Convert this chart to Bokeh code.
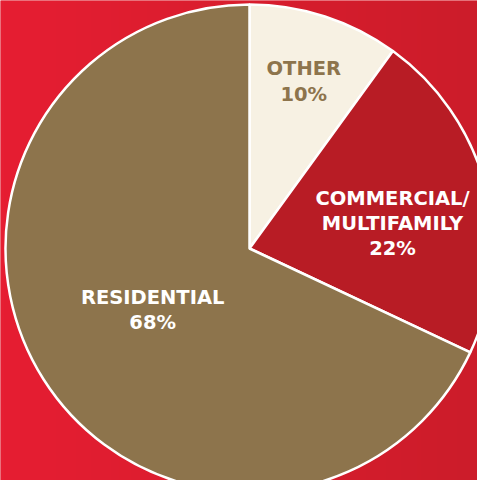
import numpy as np
from bokeh.plotting import figure
from bokeh.models import Range1d, ColumnDataSource
from bokeh.core.properties import value
from bokeh.embed import file_html
from bokeh.resources import INLINE

labels = ["OTHER\n10%", "COMMERCIAL/\nMULTIFAMILY\n22%", "RESIDENTIAL\n68%"]
values = [10, 22, 68]
colors = ["#f7f1e3", "#b81c25", "#8d744c"]
text_colors = ["#8d744c", "#ffffff", "#ffffff"]
label_r = [0.72, 0.595, 0.47]
label_dangle = [0.0, -4.5, 0.0]

W, H = 477, 480
cx, cy, R = 249, H - 248, 244

p = figure(width=W, height=H, output_backend="svg", toolbar_location=None,
           x_range=Range1d(0, W), y_range=Range1d(0, H), min_border=0)
p.axis.visible = False
p.grid.visible = False
p.outline_line_color = None
p.background_fill_color = "#dd1e2f"
p.border_fill_color = "#dd1e2f"

# subtle left-to-right background gradient
nx = 120
t = np.linspace(0, 1, nx)
c0 = np.array([0xe6, 0x1e, 0x32]); c1 = np.array([0xcc, 0x1c, 0x2a])
img = np.zeros((2, nx), dtype=np.uint32)
view = img.view(dtype=np.uint8).reshape((2, nx, 4))
for i in range(nx):
    col = c0 + (c1 - c0) * t[i]
    view[:, i, 0] = int(col[0]); view[:, i, 1] = int(col[1]); view[:, i, 2] = int(col[2]); view[:, i, 3] = 255
p.image_rgba(image=[img], x=0, y=0, dw=W, dh=H)

frac = np.array(values, dtype=float) / sum(values)
cum = np.concatenate([[0], np.cumsum(frac)])
start = np.deg2rad(90 - cum[:-1] * 360)
end = np.deg2rad(90 - cum[1:] * 360)
mid = (start + end) / 2 + np.deg2rad(label_dangle)

src = ColumnDataSource(dict(start=start, end=end, color=colors))
p.wedge(x=cx, y=cy, radius=R, start_angle="start", end_angle="end", direction="clock",
        fill_color="color", line_color="white", line_width=2.5, source=src)

lx = cx + np.array(label_r) * R * np.cos(mid)
ly = cy + np.array(label_r) * R * np.sin(mid)
tsrc = ColumnDataSource(dict(x=lx, y=ly, text=labels, tc=text_colors))
p.text(x="x", y="y", text="text", text_color="tc", text_align="center", text_baseline="middle",
       text_font=value("DejaVu Sans"), text_font_style="bold", text_font_size="19.5px",
       text_line_height=1.1, source=tsrc)

open("out.html", "w").write(file_html(p, INLINE))
